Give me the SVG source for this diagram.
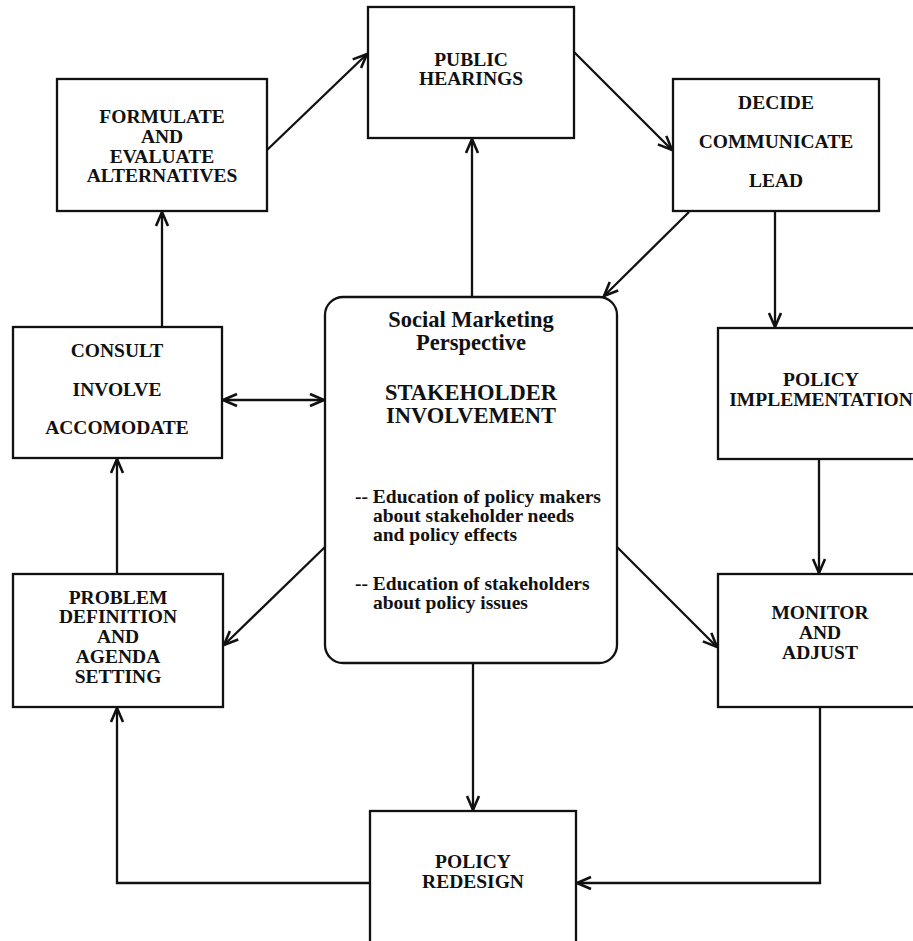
<svg xmlns="http://www.w3.org/2000/svg" width="913" height="941" viewBox="0 0 913 941">
<style>
.box{fill:#fff;stroke:#111;stroke-width:2.3}
.t{font-family:"Liberation Serif","Times New Roman",serif;font-weight:bold;font-size:19.5px;fill:#111;text-anchor:middle}
.s{font-family:"Liberation Serif","Times New Roman",serif;font-weight:bold;font-size:19.5px;fill:#111}
.big{font-size:22.5px}
.c{fill:none;stroke:#111;stroke-width:2.3}
</style>
<defs>
<marker id="ah" markerUnits="userSpaceOnUse" markerWidth="20" markerHeight="16" refX="15" refY="7" orient="auto-start-reverse" viewBox="0 0 20 14">
<path d="M1,1 L15,7 L1,13" fill="none" stroke="#111" stroke-width="2.6" stroke-linejoin="miter"/>
</marker>
</defs>
<rect width="913" height="941" fill="#fff"/>
<g id="connectors">
<line class="c" x1="267" y1="150" x2="367" y2="54" marker-end="url(#ah)"/>
<line class="c" x1="574" y1="52" x2="672" y2="150" marker-end="url(#ah)"/>
<line class="c" x1="689" y1="212" x2="604" y2="296" marker-end="url(#ah)"/>
<line class="c" x1="775" y1="212" x2="775" y2="327" marker-end="url(#ah)"/>
<line class="c" x1="472" y1="297" x2="472" y2="139" marker-end="url(#ah)"/>
<line class="c" x1="162" y1="327" x2="162" y2="212" marker-end="url(#ah)"/>
<line class="c" x1="223" y1="400" x2="324" y2="400" marker-start="url(#ah)" marker-end="url(#ah)"/>
<line class="c" x1="117" y1="574" x2="117" y2="459" marker-end="url(#ah)"/>
<line class="c" x1="325" y1="547" x2="224" y2="645" marker-end="url(#ah)"/>
<line class="c" x1="819" y1="459" x2="819" y2="573" marker-end="url(#ah)"/>
<line class="c" x1="617" y1="547" x2="717" y2="647" marker-end="url(#ah)"/>
<line class="c" x1="473" y1="663" x2="473" y2="810" marker-end="url(#ah)"/>
<polyline class="c" points="820,707 820,883 577,883" marker-end="url(#ah)"/>
<polyline class="c" points="370,883 117,883 117,708" marker-end="url(#ah)"/>
</g>
<g id="formulate">
<rect class="box" x="57" y="79" width="210" height="132"/>
<text class="t" x="162" y="123">FORMULATE</text>
<text class="t" x="162" y="143">AND</text>
<text class="t" x="162" y="163">EVALUATE</text>
<text class="t" x="162" y="182">ALTERNATIVES</text>
</g>
<g id="public-hearings">
<rect class="box" x="368" y="7" width="206" height="131"/>
<text class="t" x="471" y="66">PUBLIC</text>
<text class="t" x="471" y="85">HEARINGS</text>
</g>
<g id="decide">
<rect class="box" x="673" y="79" width="206" height="132"/>
<text class="t" x="776" y="109">DECIDE</text>
<text class="t" x="776" y="148">COMMUNICATE</text>
<text class="t" x="776" y="187">LEAD</text>
</g>
<g id="consult">
<rect class="box" x="13" y="327" width="209" height="131"/>
<text class="t" x="117" y="357">CONSULT</text>
<text class="t" x="117" y="396">INVOLVE</text>
<text class="t" x="117" y="434">ACCOMODATE</text>
</g>
<g id="social-marketing">
<rect class="box" x="325" y="297" width="292" height="366" rx="18" ry="18"/>
<text class="t big" x="471" y="327">Social Marketing</text>
<text class="t big" x="471" y="350">Perspective</text>
<text class="t big" x="471" y="400">STAKEHOLDER</text>
<text class="t big" x="471" y="423">INVOLVEMENT</text>
<text class="s" x="355" y="503">-- Education of policy makers</text>
<text class="s" x="373" y="522">about stakeholder needs</text>
<text class="s" x="373" y="541">and policy effects</text>
<text class="s" x="355" y="590">-- Education of stakeholders</text>
<text class="s" x="373" y="609">about policy issues</text>
</g>
<g id="policy-implementation">
<rect class="box" x="718" y="328" width="206" height="131"/>
<text class="t" x="821" y="386">POLICY</text>
<text class="t" x="821" y="406">IMPLEMENTATION</text>
</g>
<g id="problem-definition">
<rect class="box" x="13" y="574" width="210" height="133"/>
<text class="t" x="118" y="604">PROBLEM</text>
<text class="t" x="118" y="623">DEFINITION</text>
<text class="t" x="118" y="643">AND</text>
<text class="t" x="118" y="663">AGENDA</text>
<text class="t" x="118" y="683">SETTING</text>
</g>
<g id="monitor">
<rect class="box" x="718" y="574" width="206" height="133"/>
<text class="t" x="820" y="619">MONITOR</text>
<text class="t" x="820" y="639">AND</text>
<text class="t" x="820" y="659">ADJUST</text>
</g>
<g id="policy-redesign">
<rect class="box" x="370" y="811" width="206" height="140"/>
<text class="t" x="473" y="868">POLICY</text>
<text class="t" x="473" y="888">REDESIGN</text>
</g>
</svg>
